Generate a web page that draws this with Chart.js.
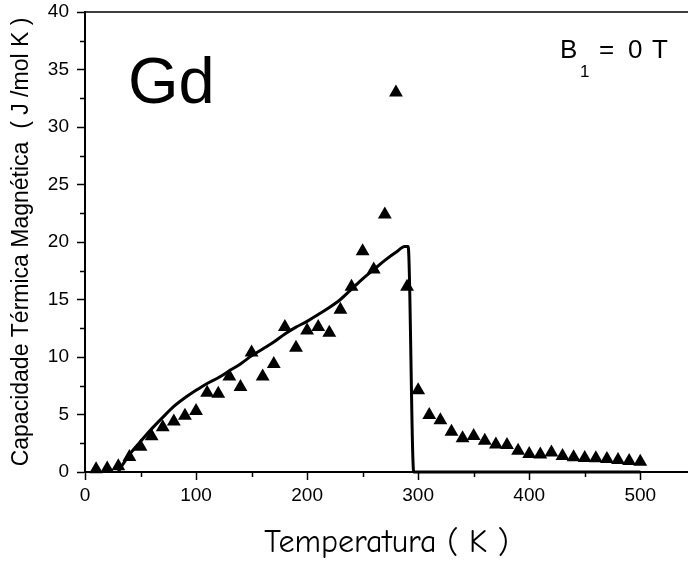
<!DOCTYPE html>
<html>
<head>
<meta charset="utf-8">
<title>Gd - Capacidade Térmica Magnética</title>
<script src="https://cdn.jsdelivr.net/npm/chart.js@4/dist/chart.umd.min.js"></script>
<style>
  html, body { margin: 0; padding: 0; background: #fff; overflow: hidden; }
  #wrap { width: 688px; height: 562px; position: relative; overflow: hidden; }
</style>
</head>
<body>
<div id="wrap"><canvas id="cmChart" width="688" height="562"></canvas></div>
<script>
// Experimental points (triangles), every 10 K
const tempExp = [10, 20, 30, 40, 50, 60, 70, 80, 90, 100,
    110, 120, 130, 140, 150, 160, 170, 180, 190, 200,
    210, 220, 230, 240, 250, 260, 270, 280, 290, 300,
    310, 320, 330, 340, 350, 360, 370, 380, 390, 400,
    410, 420, 430, 440, 450, 460, 470, 480, 490, 500];
const cmExp = [0.23, 0.3, 0.5, 1.3, 2.2, 3.1, 3.9, 4.4, 4.9, 5.3,
    6.9, 6.8, 8.3, 7.4, 10.4, 8.3, 9.4, 12.6, 10.8, 12.3,
    12.6, 12.1, 14.1, 16.1, 19.2, 17.6, 22.4, 33.0, 16.1, 7.1,
    4.96, 4.5, 3.5, 2.93, 3.13, 2.72, 2.4, 2.35, 1.85, 1.57,
    1.53, 1.7, 1.39, 1.28, 1.22, 1.19, 1.13, 1.04, 0.96, 0.9];

// Mean-field curve
const tempModel = [30, 33, 40, 50, 60, 70, 80, 90, 100, 110, 120, 130, 140, 150,
    160, 170, 180, 190, 200, 210, 220, 230, 240, 250, 260, 270, 280, 288, 291, 296, 500];
const cmModel = [0, 0.5, 1.5, 2.65, 3.75, 4.75, 5.7, 6.45, 7.1, 7.7, 8.2, 8.8, 9.4, 10.1,
    10.7, 11.3, 12.0, 12.6, 13.1, 13.7, 14.3, 15.0, 15.9, 16.8, 17.6, 18.4, 19.1, 19.6, 19.6, 0, 0];

const xMajor = [0, 100, 200, 300, 400, 500];
const xMinor = [50, 150, 250, 350, 450];
const yMinor = [2.5, 7.5, 12.5, 17.5, 22.5, 27.5, 32.5, 37.5];

const arial = 'Arial, "Liberation Sans", sans-serif';

// top frame line, minor ticks and the two text labels
const extrasPlugin = {
    id: 'extras',
    afterDraw(chart) {
        const { ctx, chartArea, scales } = chart;
        const x = scales.x, y = scales.y;
        ctx.save();
        ctx.strokeStyle = '#000';
        ctx.lineWidth = 1.5;
        ctx.beginPath();
        ctx.moveTo(chartArea.left, chartArea.top);
        ctx.lineTo(chart.width, chartArea.top);
        xMinor.forEach(v => {
            const px = Math.round(x.getPixelForValue(v)) + 0.5;
            ctx.moveTo(px, chartArea.bottom);
            ctx.lineTo(px, chartArea.bottom + 5);
        });
        yMinor.forEach(v => {
            const py = Math.round(y.getPixelForValue(v)) + 0.5;
            ctx.moveTo(chartArea.left - 5, py);
            ctx.lineTo(chartArea.left, py);
        });
        ctx.stroke();

        ctx.fillStyle = '#000';
        ctx.textBaseline = 'alphabetic';
        ctx.textAlign = 'left';
        ctx.font = '65px ' + arial;
        ctx.fillText('Gd', 128, 103);

        ctx.font = '26px ' + arial;
        ctx.fillText('B', 560, 58);
        ctx.fillText('=', 599, 58);
        ctx.fillText('0', 628, 58);
        ctx.fillText('T', 652, 58);
        ctx.font = '17px ' + arial;
        ctx.fillText('1', 580, 77);
        ctx.restore();
    }
};

const ctx = document.getElementById('cmChart').getContext('2d');
new Chart(ctx, {
    type: 'scatter',
    data: {
        datasets: [
            {
                label: 'Modelo',
                data: tempModel.map((t, i) => ({ x: t, y: cmModel[i] })),
                showLine: true,
                borderColor: '#000',
                borderWidth: 3,
                pointRadius: 0,
                cubicInterpolationMode: 'monotone',
                clip: false,
                order: 2
            },
            {
                label: 'Experimental',
                data: tempExp.map((t, i) => ({ x: t, y: cmExp[i] })),
                pointStyle: 'triangle',
                pointRadius: 8,
                backgroundColor: '#000',
                borderColor: '#000',
                borderWidth: 0,
                clip: false,
                order: 1
            }
        ]
    },
    options: {
        responsive: false,
        animation: false,
        layout: { autoPadding: false, padding: { top: 12, right: 0, left: 0, bottom: 0 } },
        plugins: {
            legend: { display: false },
            tooltip: { enabled: false }
        },
        scales: {
            x: {
                type: 'linear',
                min: 0,
                max: 543,
                afterFit: s => { s.height = 90; s.paddingLeft = 0; s.paddingRight = 0; },
                afterBuildTicks: s => { s.ticks = xMajor.map(v => ({ value: v })); },
                ticks: {
                    stepSize: 100,
                    includeBounds: false,
                    color: '#000',
                    padding: 4,
                    maxRotation: 0,
                    font: { family: arial, size: 19 }
                },
                grid: {
                    drawOnChartArea: false,
                    drawTicks: true,
                    tickLength: 8,
                    tickWidth: 1.5,
                    tickColor: '#000'
                },
                border: { display: true, color: '#000', width: 2 },
                title: {
                    display: true,
                    text: 'Temperatura ( K )',
                    color: '#000',
                    font: { family: '"Comic Sans MS", "Comic Neue", "DejaVu Sans", sans-serif', size: 32 },
                    padding: { top: 0, bottom: 0 }
                }
            },
            y: {
                type: 'linear',
                min: 0,
                max: 40,
                afterFit: s => { s.width = 85; s.paddingTop = 0; s.paddingBottom = 0; },
                ticks: {
                    stepSize: 5,
                    color: '#000',
                    padding: 8,
                    font: { family: arial, size: 19 }
                },
                grid: {
                    drawOnChartArea: false,
                    drawTicks: true,
                    tickLength: 8,
                    tickWidth: 1.5,
                    tickColor: '#000'
                },
                border: { display: true, color: '#000', width: 2 },
                title: {
                    display: true,
                    text: 'Capacidade Térmica Magnética  ( J /mol K )',
                    color: '#000',
                    font: { family: arial, size: 23 },
                    padding: { top: 8, bottom: 0 }
                }
            }
        }
    },
    plugins: [extrasPlugin]
});
</script>
</body>
</html>
